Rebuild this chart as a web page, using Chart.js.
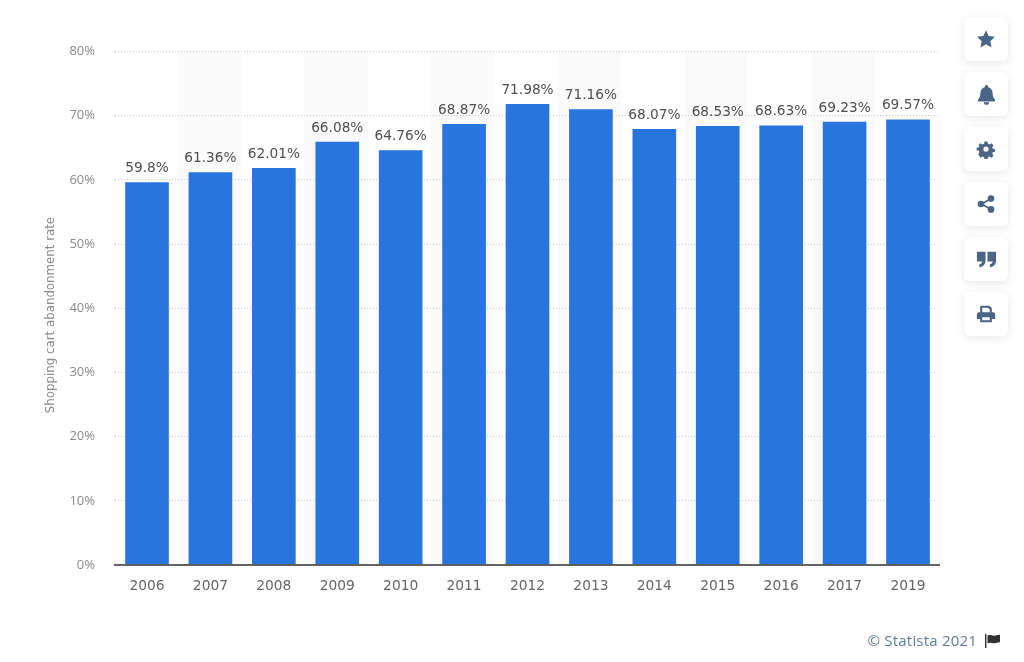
<!DOCTYPE html>
<html><head><meta charset="utf-8">
<style>
html,body{margin:0;padding:0;background:#fff;width:1024px;height:662px;overflow:hidden;font-family:"Open Sans",sans-serif}
#wrap{position:absolute;left:0;top:0;width:1024px;height:662px}
.card{position:absolute;left:964px;width:44px;height:44px;background:#fff;border-radius:6px;box-shadow:0 2px 8px rgba(60,80,110,.13);display:flex;align-items:center;justify-content:center}
.card svg{width:20px;height:20px;fill:#4a6585}
#credit{position:absolute;right:47px;top:630px;font-size:15px;color:#5f7c9b;letter-spacing:.2px;line-height:20px}
#flag{position:absolute;left:985px;top:634px;width:16px;height:14px;fill:#333}
</style></head><body>
<div id="wrap"><canvas id="c" width="1024" height="662"></canvas></div>
<div class="card" style="top:17px"><svg viewBox="0 0 24 24"><path d="M12 1.5l3.2 7 7.6.9-5.6 5.2 1.5 7.6L12 18.400 5.300 22.200l1.500-7.600L1.200 9.400l7.600-.9z"/></svg></div>
<div class="card" style="top:72px"><svg viewBox="0 0 24 24" style="width:21px;height:21px"><path d="M12 1a2 2 0 0 1 2 2v.6c3.300.8 5 3.600 5 7 0 4 1.200 5.400 2.800 7.200v2.200H2.200v-2.200C3.800 16 5 14.600 5 10.600c0-3.400 1.700-6.200 5-7V3a2 2 0 0 1 2-2zM9 20.800h6a3 3 0 0 1-6 0z"/></svg></div>
<div class="card" style="top:127px"><svg viewBox="0 0 24 24"><path fill-rule="evenodd" d="M10 2h4l.6 3 2 .9 2.600-1.700 2.800 2.800-1.700 2.600.8 2 3 .6v3.600l-3 .6-.8 2 1.700 2.600-2.800 2.800-2.600-1.700-2 .8-.6 3h-4l-.6-3-2-.8-2.600 1.700L1.600 19l1.700-2.600-.8-2-3-.6v-3.600l3-.6.8-2L1.600 7l2.800-2.800L7 5.900l2.400-.9zM12 8.500a3.500 3.500 0 1 0 0 7 3.500 3.500 0 0 0 0-7z" transform="translate(1.200 1.200) scale(.9)"/></svg></div>
<div class="card" style="top:182px"><svg viewBox="0 0 24 24"><circle cx="18" cy="5.500" r="4"/><circle cx="18" cy="18.500" r="4"/><circle cx="6" cy="12" r="4"/><path d="M6 11l12-6.500 1 1.800L7 12.800zM7 11.200l12 6.500-1 1.800L6 13z"/></svg></div>
<div class="card" style="top:237px"><svg viewBox="0 0 24 24" style="width:23px;height:23px"><path d="M2 4h9v9c0 4-2.500 6.500-6.500 7v-3c1.800-.4 2.800-1.500 3-3H2zM13 4h9v9c0 4-2.500 6.500-6.500 7v-3c1.800-.4 2.800-1.500 3-3H13z"/></svg></div>
<div class="card" style="top:292px"><svg viewBox="0 0 24 24"><path fill-rule="evenodd" d="M6 2h10l3 3v5h1.500A2.500 2.500 0 0 1 23 12.500V18h-4v4H5v-4H1v-5.500A2.500 2.500 0 0 1 3.500 10H5V3zM7.500 4.500V10h9V6h-1.500V4.500zM7.500 16v3.500h9V16z"/></svg></div>
<div id="credit">© Statista 2021</div>
<svg id="flag" viewBox="0 0 16 14"><rect x="0" y="0" width="1.400" height="14"/><path d="M2.500 1.500c3-1.500 5 1 8 0 1.500-.4 3-.8 4.500-.8v7.600c-1.500 0-3 .5-4.500.9-3 .8-5-1.600-8 0z"/></svg>
<script src="https://cdn.jsdelivr.net/npm/chart.js@4"></script>
<script>
const years = ['2006','2007','2008','2009','2010','2011','2012','2013','2014','2015','2016','2017','2019'];
const abandonmentRate = [59.8,61.36,62.01,66.08,64.76,68.87,71.98,71.16,68.07,68.53,68.63,69.23,69.57];
const axisTitle = 'Shopping cart abandonment rate';

const bands = {
  id:'bands',
  beforeDraw(chart){
    const {ctx,chartArea:a,scales:{x}} = chart;
    const step = x.getPixelForValue(1) - x.getPixelForValue(0);
    ctx.save(); ctx.fillStyle = '#fafafa';
    years.forEach((_,i)=>{ if(i%2===1 && i<12){ ctx.fillRect(x.getPixelForValue(i)-step/2-1.2,a.top,step,a.bottom-a.top);} });
    ctx.restore();
  }
};
const overlays = {
  id:'overlays',
  afterDatasetsDraw(chart){
    const {ctx,chartArea:a} = chart;
    const meta = chart.getDatasetMeta(0);
    ctx.save();
    ctx.font = '13.7px "DejaVu Sans"'; ctx.fillStyle = '#4f4f4f';
    ctx.textAlign='center'; ctx.textBaseline='alphabetic';
    meta.data.forEach((el,i)=>{ ctx.fillText(abandonmentRate[i]+'%', el.x, el.y-9); });
    ctx.strokeStyle='#333'; ctx.lineWidth=1.5;
    ctx.beginPath(); ctx.moveTo(a.left-1.3,a.bottom); ctx.lineTo(a.right+.3,a.bottom); ctx.stroke();
    ctx.translate(50.5,315); ctx.rotate(-Math.PI/2);
    ctx.font='11.8px "DejaVu Sans"'; ctx.fillStyle='#8c8c8c'; ctx.textBaseline='middle';
    ctx.fillText(axisTitle,0,0);
    ctx.restore();
  }
};
new Chart(document.getElementById('c'),{
  type:'bar',
  data:{labels:years,datasets:[{data:abandonmentRate,backgroundColor:'#2875de',borderColor:'rgba(255,255,255,.3)',borderWidth:1,categoryPercentage:1,barPercentage:0.72}]},
  plugins:[bands,overlays],
  options:{
    responsive:false,animation:false,
    layout:{padding:{left:40,right:84.3,top:51.5,bottom:0}},
    plugins:{legend:{display:false},tooltip:{enabled:false}},
    scales:{
      x:{
        afterFit(s){s.height=97;},
        grid:{display:false,drawTicks:false},
        border:{display:false},
        ticks:{color:'#666',font:{family:'"DejaVu Sans"',size:13.8},padding:13,maxRotation:0,autoSkip:false}
      },
      y:{
        min:0,max:80,
        afterFit(s){s.width=75.3;},
        grid:{color:'#c8c8c8',drawTicks:true,tickLength:1.3,tickColor:'#c8c8c8',lineWidth:1},
        border:{display:false,dash:[1,2]},
        ticks:{stepSize:10,color:'#8a8a8a',font:{family:'"Open Sans"',size:13},padding:19,callback:v=>v+'%'}
      }
    }
  }
});
</script>
</body></html>
